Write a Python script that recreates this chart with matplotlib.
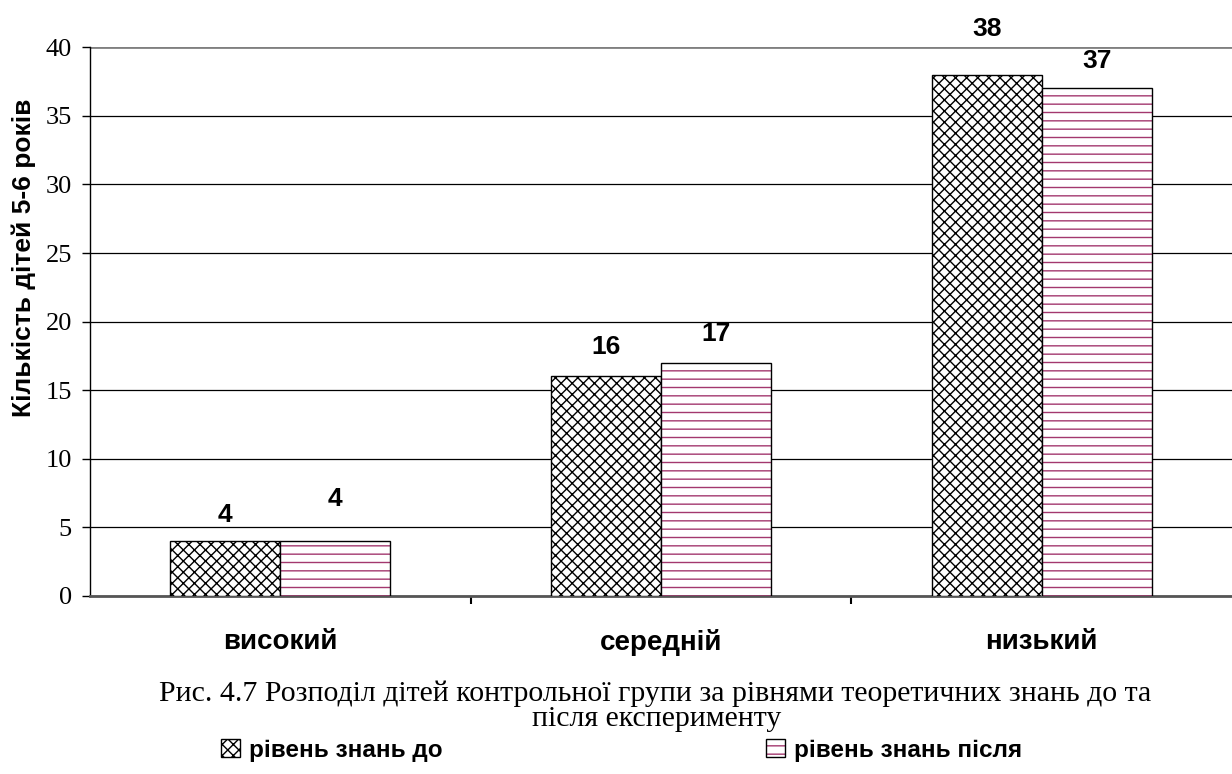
import numpy as np
import matplotlib.pyplot as plt
from matplotlib.patches import Patch

categories = ['високий', 'середній', 'низький']
before = [4, 16, 38]
after = [4, 17, 37]
series_names = ['рівень знань до', 'рівень знань після']
yticks = [0, 5, 10, 15, 20, 25, 30, 35, 40]
# label offsets above bar tops (points), as in the original
off_before = [19, 21, 33]
off_after = [30, 21, 20]

pink = '#a3386e'
plt.rcParams['hatch.linewidth'] = 1.0

fig = plt.figure(figsize=(12.32, 7.74), dpi=100)
ax = fig.add_axes([0.073, 0.230, 0.927, 0.709])

x = np.arange(len(categories))
w = 0.289

ax.bar(x - w / 2, before, w, color='white', edgecolor='black',
       hatch='xxx', linewidth=1.0, zorder=3)
ax.bar(x + w / 2, after, w, color='white', edgecolor=pink,
       hatch='--', linewidth=0, zorder=3)
ax.bar(x + w / 2, after, w, fill=False, edgecolor='black', linewidth=1.0, zorder=4)

for xi, v, o in zip(x - w / 2, before, off_before):
    ax.annotate(str(v), (xi, v), xytext=(0, o), textcoords='offset points',
                ha='center', va='center', fontsize=19, fontweight='bold',
                family='Liberation Sans')
for xi, v, o in zip(x + w / 2, after, off_after):
    ax.annotate(str(v), (xi, v), xytext=(0, o), textcoords='offset points',
                ha='center', va='center', fontsize=19, fontweight='bold',
                family='Liberation Sans')

ax.set_xlim(-0.5, 2.5)
ax.set_ylim(0, 40)
ax.set_yticks(yticks)
ax.set_yticklabels([str(t) for t in yticks], family='Liberation Serif', fontsize=19)
ax.tick_params(axis='y', direction='out', length=6, width=1, pad=7)

ax.set_xticks([0.5, 1.5])
ax.set_xticklabels([])
ax.tick_params(axis='x', which='major', direction='out', length=6, width=1.5)
ax.set_xticks(x, minor=True)
ax.set_xticklabels(categories, minor=True, fontsize=20, fontweight='bold',
                   family='Liberation Sans')
ax.tick_params(axis='x', which='minor', length=0, pad=24)

ax.yaxis.grid(True, color='black', linewidth=0.9, zorder=0)
ax.set_axisbelow(True)
ax.get_ygridlines()[-1].set_color('#808080')
ax.get_ygridlines()[-1].set_linewidth(2)

for s in ['top', 'right']:
    ax.spines[s].set_visible(False)
ax.spines['bottom'].set_color('#555555')
ax.spines['bottom'].set_linewidth(2)
ax.spines['left'].set_linewidth(1)

ax.set_ylabel('Кількість дітей 5-6 років', fontsize=19, fontweight='bold',
              family='Liberation Sans')
ax.yaxis.set_label_coords(-0.047, 0.616)

fig.text(0.532, 0.104, 'Рис. 4.7 Розподіл дітей контрольної групи за рівнями теоретичних знань до та',
         ha='center', va='center', fontsize=21.5, family='Liberation Serif')
fig.text(0.533, 0.071, 'після експерименту',
         ha='center', va='center', fontsize=21.5, family='Liberation Serif')

h1 = Patch(facecolor='white', edgecolor='black', hatch='xxx')
h2a = Patch(facecolor='white', edgecolor=pink, hatch='--', linewidth=0)
h2b = Patch(fill=False, edgecolor='black')
fig.legend(handles=[h1, (h2a, h2b)], labels=series_names, ncol=2, loc='center left',
           bbox_to_anchor=(0.162, 0.031), frameon=False, handlelength=0.75,
           handleheight=0.75, handletextpad=0.4, columnspacing=13.3,
           prop={'family': 'Liberation Sans', 'weight': 'bold', 'size': 17.5})

fig.savefig('out.png', dpi=100)
